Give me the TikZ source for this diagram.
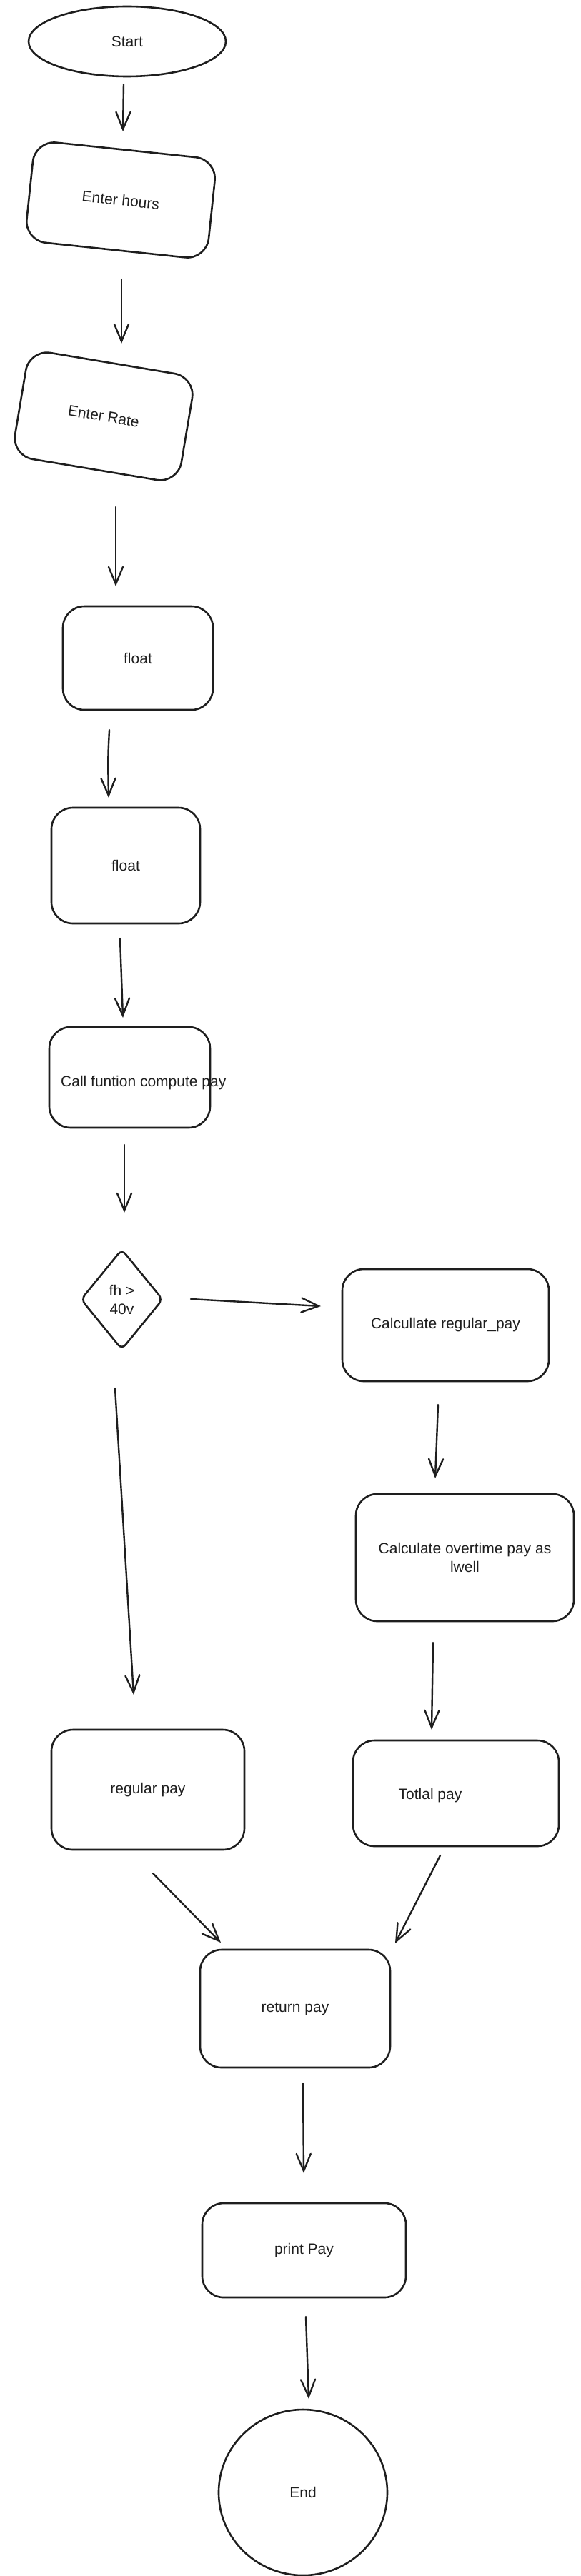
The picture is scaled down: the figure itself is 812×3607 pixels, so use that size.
\documentclass[tikz,border=0pt]{standalone}
\usepackage{fontspec}
\setmainfont{Liberation Sans}
\usetikzlibrary{shapes.geometric,arrows.meta,calc}
\definecolor{ink}{HTML}{1E1E1E}
\begin{document}
\begin{tikzpicture}[x=1pt,y=-1pt,
  every node/.style={font=\fontsize{21}{26}\selectfont, text=ink},
  pbox/.style={draw=ink, line width=2.6pt, rectangle, rounded corners=30pt, inner sep=0pt, align=center},
  oval/.style={draw=ink, line width=2.6pt, ellipse, inner sep=0pt},
  decision/.style={draw=ink, line width=2.6pt, diamond, rounded corners=8pt, inner sep=0pt, align=center},
  conn/.style={draw=ink, line width=2.4pt, line cap=round, -{Straight Barb[length=24pt,width=20pt,line cap=round]}},
  plain/.style={inner sep=0pt}
]
\useasboundingbox (0,0) rectangle (812,3607);
\fill[white] (0,0) rectangle (812,3607);

% nodes
\node[oval, minimum width=276pt, minimum height=98pt] (start) at (178,58) {Start};
\node[pbox, minimum width=256pt, minimum height=141pt, rotate=-6] (hours) at (169,280) {Enter hours};
\node[pbox, minimum width=236pt, minimum height=151pt, rotate=-9.5] (rate) at (145,583) {Enter Rate};
\node[pbox, minimum width=210pt, minimum height=145pt] (f1) at (193,921.5) {float};
\node[pbox, minimum width=208pt, minimum height=162pt] (f2) at (176,1212) {float};
\node[pbox, minimum width=225pt, minimum height=141pt] (call) at (181.5,1508.5) {};
\node[plain, anchor=west] (calltxt) at ($(call)+(-96.5,7.5)$) {Call funtion compute pay};
\node[decision, minimum width=115pt, minimum height=141pt] (dec) at (170.5,1819.5) {fh >\\40v};
\node[pbox, minimum width=289pt, minimum height=157pt] (creg) at (623.5,1855.5) {Calcullate regular\_pay};
\node[pbox, minimum width=305pt, minimum height=178pt] (cot) at (650.5,2181) {Calculate overtime pay as\\lwell};
\node[pbox, minimum width=288pt, minimum height=148pt] (tot) at (638,2511) {};
\node[plain] (tottxt) at ($(tot)+(-36,3)$) {Totlal pay};
\node[pbox, minimum width=270pt, minimum height=168pt] (reg) at (207,2506) {regular pay};
\node[pbox, minimum width=266pt, minimum height=165pt] (ret) at (413,2812.5) {return pay};
\node[pbox, minimum width=285pt, minimum height=132pt] (prt) at (425.5,3151) {print Pay};
\node[oval, minimum width=236pt, minimum height=232pt] (end) at (424,3490) {End};

% connectors
\draw[conn] ($(start)+(-5,60)$) -- ($(hours)+(3,-96)$);
\draw[conn] ($(hours)+(1,111)$) -- ($(rate)+(25,-102)$);
\draw[conn] ($(rate)+(17,127)$) -- ($(f1)+(-31,-100.5)$);
\draw[conn] ($(f1)+(-40,100.5)$) .. controls ($(f1)+(-42,140)$) .. ($(f2)+(-24,-95)$);
\draw[conn] ($(f2)+(-8,102)$) -- ($(call)+(-9.5,-83.5)$);
\draw[conn] ($(call)+(-7.5,94.5)$) -- ($(dec)+(3.5,-121.5)$);
\draw[conn] ($(dec)+(96.5,-0.5)$) -- ($(creg)+(-174.5,-26.5)$);
\draw[conn] ($(dec)+(-9.5,124.5)$) -- ($(reg)+(-20,-133)$);
\draw[conn] ($(creg)+(-10.5,111.5)$) -- ($(cot)+(-41.5,-111)$);
\draw[conn] ($(cot)+(-44.5,119)$) -- ($(tot)+(-34,-89)$);
\draw[conn] ($(reg)+(7,117)$) -- ($(ret)+(-104,-92.5)$);
\draw[conn] ($(tot)+(-22,87)$) -- ($(ret)+(140,-91.5)$);
\draw[conn] ($(ret)+(11,104.5)$) -- ($(prt)+(-0.5,-108)$);
\draw[conn] ($(prt)+(2.5,93)$) -- ($(end)+(8,-131)$);
\end{tikzpicture}
\end{document}
